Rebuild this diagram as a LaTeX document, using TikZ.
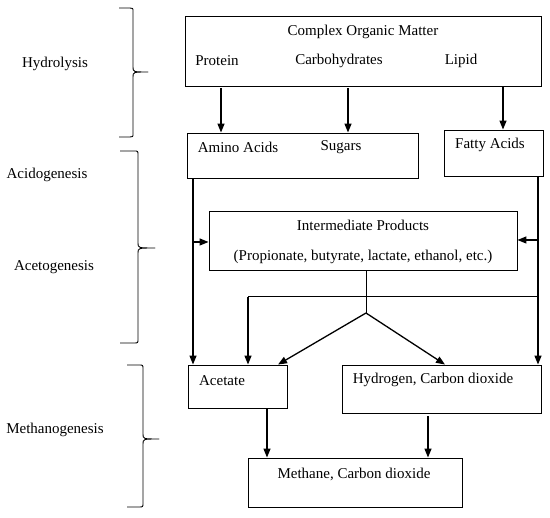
\documentclass[tikz,border=0pt]{standalone}
\usepackage{fontspec}
\setmainfont{Liberation Serif}
\usetikzlibrary{arrows.meta}

\begin{document}
\begin{tikzpicture}[x=1pt,y=-1pt,font=\fontsize{15}{18}\selectfont,
  box/.style={draw,line width=0.9pt,inner sep=0pt},
  arr/.style={-{Triangle[length=9pt,width=7pt]},line width=1.3pt},
  link/.style={line width=1pt},
  phase/.style={line width=0.9pt,line join=round}]
\useasboundingbox (0,0) rectangle (550,518);
% boxes
\node[box,minimum width=356,minimum height=70] (com) at (363,51) {};
\node[box,minimum width=231,minimum height=45] (mono) at (302.5,155.5) {};
\node[box,minimum width=99,minimum height=46] (fatty) at (493.5,153) {};
\node[box,minimum width=308,minimum height=59] (inter) at (363,240.5) {};
\node[box,minimum width=99,minimum height=43] (acet) at (237.5,386.5) {};
\node[box,minimum width=199,minimum height=48] (hyd) at (441.5,389) {};
\node[box,minimum width=214,minimum height=49] (meth) at (355,482.5) {};
% texts inside the boxes
\node (comT) at (363,32) {Complex Organic Matter};
\node (prot) at (217,61) {Protein};
\node (carb) at (339,61) {Carbohydrates};
\node (lip) at (461,61) {Lipid};
\node (aminoT) at (238,147) {Amino Acids};
\node (sugT) at (341,147) {Sugars};
\node (fattyT) at (490,145) {Fatty Acids};
\node (interT) at (363,225) {Intermediate Products};
\node (interL) at (363,257) {(Propionate, butyrate, lactate, ethanol, etc.)};
\node (acetT) at (222,381) {Acetate};
\node (hydT) at (433,380) {Hydrogen, Carbon dioxide};
\node (methT) at (354,474) {Methane, Carbon dioxide};
% phases on the left
\node (hydro) at (55,64) {Hydrolysis};
\node (acido) at (47,175) {Acidogenesis};
\node (aceto) at (54,267) {Acetogenesis};
\node (metha) at (55,430) {Methanogenesis};
\draw[phase] (119,8) -- (130,8) .. controls (133,8) .. (133,12) -- (133,67)
  .. controls (133,72) .. (148,72) .. controls (133,72) .. (133,77) -- (133,133)
  .. controls (133,137) .. (130,137) -- (119,137);
\draw[phase] (120,151) -- (134,151) .. controls (138,151) .. (138,155) -- (138,243)
  .. controls (138,248) .. (155,248) .. controls (138,248) .. (138,253) -- (138,339)
  .. controls (138,343) .. (134,343) -- (120,343);
\draw[phase] (127,365) -- (139,365) .. controls (143,365) .. (143,369) -- (143,434)
  .. controls (143,439) .. (159,439) .. controls (143,439) .. (143,444) -- (143,503)
  .. controls (143,507) .. (139,507) -- (127,507);
% hydrolysis
\coordinate (xP) at (221,0);
\coordinate (xC) at (348,0);
\coordinate (xL) at (503,0);
\draw[arr] ([yshift=-2pt]com.south -| xP) -- (mono.north -| xP);
\draw[arr] ([yshift=-2pt]com.south -| xC) -- (mono.north -| xC);
\draw[arr] (com.south -| xL) -- (fatty.north -| xL);
% side lines
\coordinate (xl) at (193,0);
\coordinate (xr) at (538,0);
\draw[arr] (mono.south -| xl) -- (acet.north -| xl);
\draw[arr] (fatty.south -| xr) -- (hyd.north -| xr);
\coordinate (jl) at (193,242);
\coordinate (jr) at (538,240);
\draw[arr] (jl) -- (jl -| inter.west);
\draw[arr] (jr) -- (jr -| inter.east);
% split below the intermediate products
\coordinate (split) at (366,313);
\coordinate (bar) at (248,297);
\draw[link] (inter.south -| split) -- (split);
\draw[link] (bar) -- (bar -| xr);
\draw[arr] (bar) -- (acet.north -| bar);
\draw[arr] (split) -- (acet.north -| 278,0);
\draw[arr] (split) -- (hyd.north -| 445,0);
% methanogenesis
\draw[arr] (acet.south -| 267,0) -- (meth.north -| 267,0);
\draw[arr] ([yshift=-3pt]hyd.south -| 428,0) -- (meth.north -| 428,0);
\end{tikzpicture}
\end{document}
